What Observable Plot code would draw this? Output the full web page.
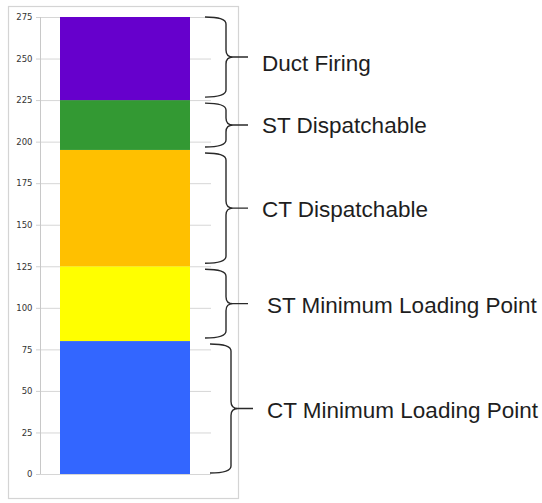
<!DOCTYPE html>
<html><head><meta charset="utf-8">
<script src="https://cdn.jsdelivr.net/npm/d3@7"></script>
<script src="https://cdn.jsdelivr.net/npm/@observablehq/plot@0.6"></script>
<style>body{margin:0;background:#fff}</style>
</head><body><div id="chart"></div>
<script>
// Data (bottom to top)
const segments = ["CT Minimum Loading Point", "ST Minimum Loading Point", "CT Dispatchable", "ST Dispatchable", "Duct Firing"];
const values = [80, 45, 70, 30, 50];
const colors = ["#3366FF", "#FFFF00", "#FFC000", "#339933", "#6600CC"];
const yTicks = [0, 25, 50, 75, 100, 125, 150, 175, 200, 225, 250, 275];
const barName = ["Capacity"];

// layout constants for the annotations
const braceShift = [5, 0, 0, 0, 0];
const labelShift = [5, 5, 0, 0, 0];
const labelDy = [2, 1, 1, 0, 6];

let acc = 0;
const data = segments.map((s, i) => {
  const lo = acc; acc += values[i];
  return {bar: barName[0], segment: s, value: values[i], lo, hi: acc, i};
});

const W = 542, H = 503, ML = 40, MR = 331, MT = 17, MB = 29;

const plot = Plot.plot({
  width: W, height: H,
  marginLeft: ML, marginRight: MR, marginTop: MT, marginBottom: MB,
  style: {fontFamily: "Liberation Sans, Arial, sans-serif", background: "#fff", overflow: "visible"},
  x: {type: "band", domain: barName, padding: 0.133, axis: null},
  y: {domain: [0, 275], axis: null},
  color: {domain: segments, range: colors},
  marks: [
    Plot.ruleY(yTicks, {stroke: "#d6d6d6", strokeWidth: 1}),
    Plot.axisY({ticks: yTicks, tickSize: 4, tickPadding: 4, stroke: "#d0d0d0", fill: "#333",
      fontSize: 8.5, fontFamily: "DejaVu Sans", label: null}),
    Plot.barY(data, {x: "bar", y: "value", fill: "segment"})
  ]
});
document.getElementById("chart").appendChild(plot);

const ysc = plot.scale("y");
const y = ysc.apply ? (v => ysc.apply(v)) : d3.scaleLinear(ysc.domain, ysc.range);
const svg = d3.select(plot.tagName.toLowerCase() === "svg" ? plot : plot.querySelector("svg"));

// outer chart frame
svg.insert("rect", ":first-child")
  .attr("x", 8.5).attr("y", 6.5).attr("width", 230).attr("height", 492)
  .attr("fill", "#fff").attr("stroke", "#d4d4d4").attr("stroke-width", 1.2);

// vertical axis line
svg.append("line")
  .attr("x1", ML + 0.5).attr("x2", ML + 0.5)
  .attr("y1", y(0)).attr("y2", y(275))
  .attr("stroke", "#c8c8c8");

const right = W - MR;
function brace(L, S, T, y1, y2) {
  const ym = (y1 + y2) / 2, r = 7;
  return `M${L},${y1} Q${S},${y1} ${S},${y1 + r} L${S},${ym - r} Q${S},${ym} ${S + r},${ym} L${T},${ym}` +
         `M${S + r},${ym} Q${S},${ym} ${S},${ym + r} L${S},${y2 - r} Q${S},${y2} ${L},${y2}`;
}
const g = svg.append("g").attr("text-anchor", "start");
data.forEach((d, i) => {
  const top = y(d.hi) + (i === data.length - 1 ? 0 : 3);
  const bot = y(d.lo) - (i === 0 ? 1 : 3);
  const s = braceShift[i];
  g.append("path")
    .attr("d", brace(right - 6 + s, right + 15 + s, right + 37 + s, top, bot))
    .attr("fill", "none").attr("stroke", "#2a2a2a").attr("stroke-width", 1.4);
  g.append("text")
    .attr("x", right + 51 + labelShift[i])
    .attr("y", (top + bot) / 2 + labelDy[i])
    .attr("dy", "0.35em")
    .attr("text-anchor", "start")
    .attr("font-size", 22.5)
    .attr("fill", "#1e1e1e")
    .text(d.segment);
});
</script>
</body></html>
